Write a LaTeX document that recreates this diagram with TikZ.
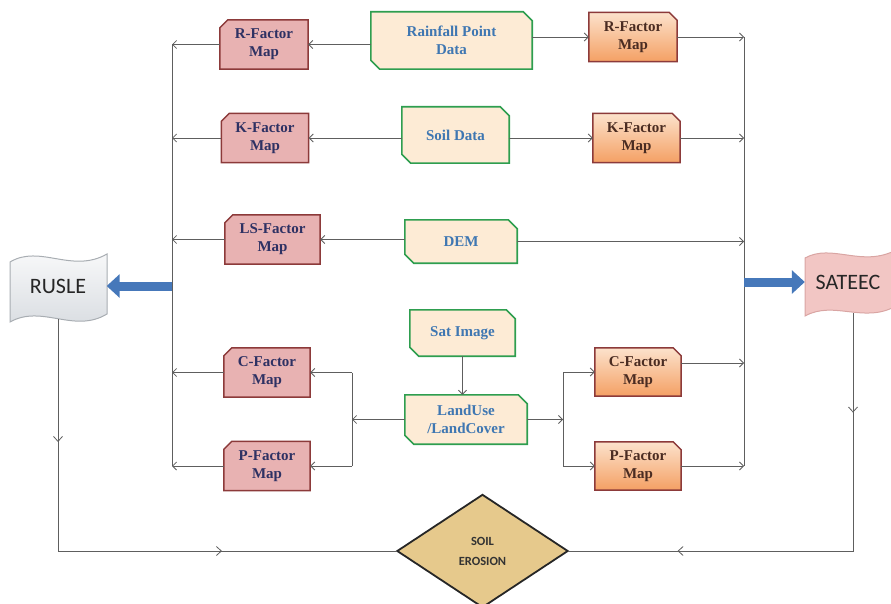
\documentclass[tikz,border=0pt]{standalone}
\usepackage{fontspec}
\setmainfont{Liberation Serif}
\newfontfamily\calib{Carlito}
\usetikzlibrary{arrows.meta,calc,backgrounds,decorations.markings}
\definecolor{gfill}{HTML}{FDEBD5}
\definecolor{gdraw}{HTML}{2E9E4F}
\definecolor{gtext}{HTML}{3F77B2}
\definecolor{rfill}{HTML}{E8B2B2}
\definecolor{rdraw}{HTML}{8C3A3A}
\definecolor{rtext}{HTML}{2E3163}
\definecolor{otop}{HTML}{FCE2CC}
\definecolor{obot}{HTML}{F4A064}
\definecolor{otext}{HTML}{4A2C22}
\definecolor{linegray}{HTML}{5E5E5E}
\definecolor{arrblue}{HTML}{4678BA}
\definecolor{rusfill}{HTML}{D6DADF}
\definecolor{rusdraw}{HTML}{A8ADB2}
\definecolor{satfill}{HTML}{F2C6C4}
\definecolor{satdraw}{HTML}{D9A5A3}
\definecolor{diafill}{HTML}{E6C98C}
% chamfered outlines drawn from node anchors
\newcommand\greenshape[1]{\path[gshape] (#1.north west) -- ([xshift=-9pt]#1.north east) -- ([yshift=-9pt]#1.north east) -- (#1.south east) -- ([xshift=9pt]#1.south west) -- ([yshift=9pt]#1.south west) -- cycle;}
\newcommand\redshape[1]{\path[rshape] ([xshift=8pt]#1.north west) -- (#1.north east) -- (#1.south east) -- (#1.south west) -- ([yshift=-8pt]#1.north west) -- cycle;}
\newcommand\orangeshape[1]{\path[oshape] (#1.north west) -- ([xshift=-8pt]#1.north east) -- ([yshift=-8pt]#1.north east) -- (#1.south east) -- (#1.south west) -- cycle;}
\begin{document}
\begin{tikzpicture}[x=1pt,y=-1pt,
  lbl/.style={font=\bfseries\fontsize{15}{18}\selectfont, align=center, inner sep=0pt},
  gbox/.style={lbl, text=gtext},
  rbox/.style={lbl, text=rtext, minimum width=87pt, minimum height=49pt},
  obox/.style={lbl, text=otext, minimum width=87pt, minimum height=48pt},
  gshape/.style={fill=gfill, draw=gdraw, line width=1.6pt},
  rshape/.style={fill=rfill, draw=rdraw, line width=1.5pt},
  oshape/.style={top color=otop, bottom color=obot, draw=rdraw, line width=1.5pt},
  conn/.style={draw=linegray, line width=0.8pt},
  arr/.style={conn, -{Straight Barb[length=4pt,width=8pt]}},
  bluearr/.style={draw=arrblue, line width=9pt, -{Triangle[length=13pt,width=23pt]}},
  midarr/.style 2 args={postaction={decorate}, decoration={markings,
     mark=at position #1 with {\arrow{Straight Barb[length=5pt,width=9pt]}},
     mark=at position #2 with {\arrow{Straight Barb[length=5pt,width=9pt]}}}},
  bigtxt/.style={font=\calib\fontsize{22}{24}\selectfont, text=black!85, inner sep=0pt}
]
\useasboundingbox (0,0) rectangle (891,604);

% data boxes
\node[gbox, minimum width=161pt, minimum height=57pt] (rain) at (451.5,40.5) {Rainfall Point\\Data};
\node[gbox, minimum width=107pt, minimum height=56pt] (soil) at (455.5,135) {Soil Data};
\node[gbox, minimum width=112pt, minimum height=43pt] (dem) at (461,241.5) {DEM};
\node[gbox, minimum width=105pt, minimum height=46pt] (sat) at (462.5,333) {Sat Image};
\node[gbox, minimum width=122pt, minimum height=49pt] (lulc) at (466,419.5) {LandUse\\/LandCover};

% left factor maps
\node[rbox, minimum width=88pt] (rL) at (264,44.5) {R-Factor\\Map};
\node[rbox] (kL) at (265,138) {K-Factor\\Map};
\node[rbox, minimum width=95pt] (lsL) at (272.5,239.5) {LS-Factor\\Map};
\node[rbox, minimum width=86pt] (cL) at (267,372.5) {C-Factor\\Map};
\node[rbox, minimum width=86pt] (pL) at (267,466) {P-Factor\\Map};

% right factor maps
\node[obox, minimum width=88pt, minimum height=49pt] (rR) at (633,37) {R-Factor\\Map};
\node[obox, minimum height=49pt] (kR) at (636.5,138) {K-Factor\\Map};
\node[obox, minimum width=86pt] (cR) at (638,372) {C-Factor\\Map};
\node[obox, minimum width=86pt] (pR) at (638,466) {P-Factor\\Map};

% models and result
\node[bigtxt, minimum width=97pt, minimum height=66pt] (rusle) at (58,286) {RUSLE};
\node[bigtxt, minimum width=86pt, minimum height=62pt] (sateec) at (848,282) {SATEEC};
\node[font=\calib\bfseries\fontsize{12.5}{20}\selectfont, text=black!80, align=center, inner sep=0pt,
      minimum width=170pt, minimum height=112pt] (se) at (482.5,551) {SOIL\\EROSION};

\begin{scope}[on background layer]
  \greenshape{rain}\greenshape{soil}\greenshape{dem}\greenshape{sat}\greenshape{lulc}
  \redshape{rL}\redshape{kL}\redshape{lsL}\redshape{cL}\redshape{pL}
  \orangeshape{rR}\orangeshape{kR}\orangeshape{cR}\orangeshape{pR}
  \path[draw=rusdraw, line width=1pt, top color=white!90!rusfill, bottom color=rusfill]
    (10,262) .. controls (40,244) and (72,274) .. (107,254) -- (107,314)
    .. controls (74,334) and (42,304) .. (10,322) -- cycle;
  \path[draw=satdraw, line width=1pt, fill=satfill]
    (805,258) .. controls (832,243) and (862,268) .. (896,250) -- (896,306)
    .. controls (864,324) and (834,300) .. (805,316) -- cycle;
  \path[fill=diafill, draw=black!85, line width=1.8pt] (se.north) -- (se.east) -- (se.south) -- (se.west) -- cycle;
\end{scope}

% buses
\coordinate (bLt) at (172,44.5);
\coordinate (bLb) at (172,466);
\coordinate (bRt) at (744,37);
\coordinate (bRb) at (744,466);
\draw[conn] (bLt) -- (bLb);
\draw[conn] (bRt) -- (bRb);

% row connectors
\draw[arr] (rain.west |- rL.east) -- (rL.east);
\draw[arr] (rL.west) -- (rL.west -| bLt);
\draw[arr] (rain.east |- rR.west) -- (rR.west);
\draw[arr] (rR.east) -- (rR.east -| bRt);
\draw[arr] (soil.west |- kL.east) -- (kL.east);
\draw[arr] (kL.west) -- (kL.west -| bLt);
\draw[arr] (soil.east |- kR.west) -- (kR.west);
\draw[arr] (kR.east) -- (kR.east -| bRt);
\draw[arr] (dem.west |- lsL.east) -- (lsL.east);
\draw[arr] (lsL.west) -- (lsL.west -| bLt);
\draw[arr] (dem.east) -- (dem.east -| bRt);
\draw[arr] (sat.south) -- (sat.south |- lulc.north);

% land use split, left
\coordinate (jL) at (352,419.5);
\draw[arr] (lulc.west) -- (jL);
\draw[conn] (jL |- cL.east) -- (jL |- pL.east);
\draw[arr] (jL |- cL.east) -- (cL.east);
\draw[arr] (jL |- pL.east) -- (pL.east);
\draw[arr] (cL.west) -- (cL.west -| bLt);
\draw[arr] (pL.west) -- (pL.west -| bLt);

% land use split, right
\coordinate (jR) at (563,419.5);
\draw[arr] (lulc.east) -- (jR);
\draw[conn] (jR |- cR.west) -- (jR |- pR.west);
\draw[arr] (jR |- cR.west) -- (cR.west);
\draw[arr] (jR |- pR.west) -- (pR.west);
\coordinate (cRo) at ([yshift=9pt]cR.east);
\draw[arr] (cRo) -- (cRo -| bRt);
\draw[arr] (pR.east) -- (pR.east -| bRt);

% thick arrows to the models
\draw[bluearr] (bLt |- rusle.east) -- (rusle.east);
\draw[bluearr] (bRt |- sateec.west) -- (sateec.west);

% to soil erosion
\draw[conn, midarr={0.215}{0.693}] (rusle.south) -- (rusle.south |- se.west) -- (se.west);
\coordinate (sOut) at ([xshift=5pt]sateec.south);
\draw[conn, midarr={0.19}{0.79}] (sOut) -- (sOut |- se.east) -- (se.east);
\end{tikzpicture}
\end{document}
